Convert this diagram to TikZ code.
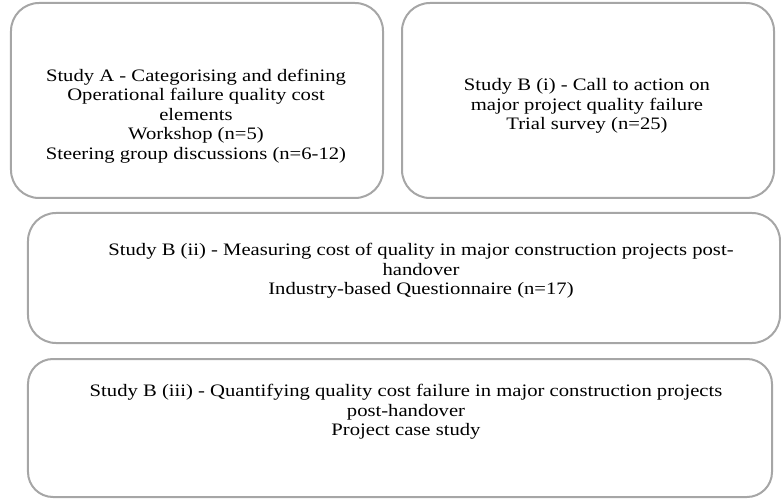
\documentclass[tikz,border=0pt]{standalone}
\usepackage{fontspec}
\setmainfont{Liberation Serif}[FakeStretch=1.18]
\definecolor{boxgray}{HTML}{A6A6A6}
\begin{document}
\begin{tikzpicture}[x=1bp,y=-1bp,
  box/.style={draw=boxgray, line width=2bp, rounded corners=28bp, minimum width=#1, inner sep=0pt},
  txt/.style={align=center, font=\fontsize{17.5bp}{19.4bp}\selectfont, inner sep=0pt}]
\useasboundingbox (0,0) rectangle (781,499);
\node[box=372bp, minimum height=195bp] (b1) at (197,100.5) {};
\node[box=372bp, minimum height=195bp] (b2) at (588,100.5) {};
\node[box=752bp, minimum height=130bp] (b3) at (404,278) {};
\node[box=744bp, minimum height=138bp, rounded corners=25bp] (b4) at (400,428) {};
\node[txt] (t1) at (196,116) {Study A - Categorising and defining\\Operational failure quality cost\\elements\\Workshop (n=5)\\Steering group discussions (n=6-12)};
\node[txt] (t2) at (587,106) {Study B (i) - Call to action on\\major project quality failure\\Trial survey (n=25)};
\node[txt] (t3) at (421,271) {Study B (ii) - Measuring cost of quality in major construction projects post-\\handover\\Industry-based Questionnaire (n=17)};
\node[txt] (t4) at (406,412) {Study B (iii) - Quantifying quality cost failure in major construction projects\\post-handover\\Project case study};
\end{tikzpicture}
\end{document}
